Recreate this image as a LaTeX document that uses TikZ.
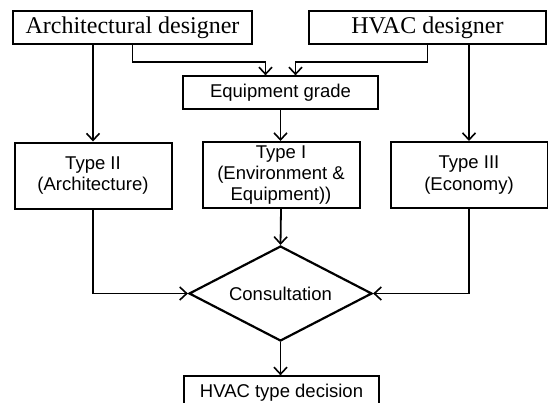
\documentclass[tikz,border=0pt]{standalone}
\usepackage{fontspec}
\setmainfont{Liberation Serif}
\newfontfamily\sansf{Liberation Sans}
\usetikzlibrary{shapes.geometric,arrows.meta,calc}
\begin{document}
\begin{tikzpicture}[x=1pt,y=-1pt,
  topbox/.style={draw,line width=1.3pt,inner sep=0pt,font=\fontsize{24}{26}\selectfont},
  midbox/.style={draw,line width=1.3pt,inner sep=0pt,font=\sansf\fontsize{18.5}{22}\selectfont},
  typebox/.style={draw,line width=2pt,inner sep=0pt,align=center,minimum width=157pt,minimum height=66pt,font=\sansf\fontsize{18.5}{21.5}\selectfont},
  arr/.style={line width=1.8pt,-{Straight Barb[length=7pt,width=13pt,line width=1.6pt]}},
  ln/.style={line width=1.8pt}]
\useasboundingbox (0,0) rectangle (548,402);
\clip (0,0) rectangle (548,402);
\node[topbox,minimum width=239pt,minimum height=33pt] (arch) at (132.5,27.5) {Architectural designer};
\node[topbox,minimum width=237pt,minimum height=33pt] (hvac) at (427.5,27.5) {HVAC designer};
\node[midbox,minimum width=195pt,minimum height=33pt] (equip) at (280.5,92.5) {Equipment grade};
\node[typebox] (t2) at (93,175.5) {Type II\\(Architecture)};
\node[typebox,font=\sansf\fontsize{18.5}{21}\selectfont] (t1) at (281,175) {Type I\\(Environment \&\\Equipment))};
\node[typebox] (t3) at (469,175) {Type III\\(Economy)};
\node[draw,diamond,line width=2.2pt,inner sep=0pt,aspect=1.93,minimum width=183pt,minimum height=95pt,font=\sansf\fontsize{18.5}{22}\selectfont] (dia) at (280.5,293.5) {Consultation};
\node[midbox,minimum width=195pt,minimum height=34pt] (dec) at (281.5,393) {HVAC type decision};
\draw[arr] (arch.south -| t2.north) -- (t2.north);
\draw[arr] (arch.south) -- ++(0,17) -| ([xshift=-15pt]equip.north);
\draw[arr] (hvac.south) -- ++(0,17) -| ([xshift=15pt]equip.north);
\draw[arr] (hvac.south -| t3.north) -- (t3.north);
\draw[arr] (equip.south) -- (equip.south |- t1.north);
\draw[arr] (t1.south) -- (dia.north);
\draw[arr] (t2.south) |- (dia.west);
\draw[arr] (t3.south) |- (dia.east);
\draw[arr] (dia.south) -- (dia.south |- dec.north);
\end{tikzpicture}
\end{document}
